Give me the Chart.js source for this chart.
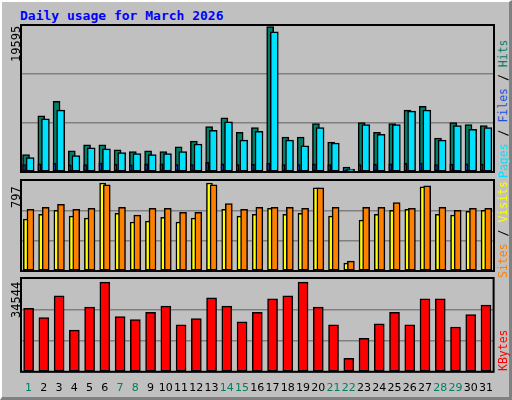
<!DOCTYPE html>
<html><head><meta charset="utf-8">
<script src="https://cdn.jsdelivr.net/npm/chart.js@4/dist/chart.umd.min.js"></script>
<style>
body{margin:0;background:#fff}
#f{position:absolute;left:0;top:0;background:#c0c0c0;border-left:2px solid #fff;border-top:2px solid #fff;border-right:3px solid #808080;border-bottom:3px solid #808080;box-sizing:border-box;width:512px;height:400px;font-family:"DejaVu Sans Mono",monospace}
.c{position:absolute}
.t{position:absolute;font-size:12px;white-space:nowrap}
.v{position:absolute;transform-origin:left top;transform:rotate(-90deg);font-size:12px;white-space:nowrap}
</style></head><body>
<div id="f">
<div class="t" style="left:18px;top:6px;color:#0000ff;font-weight:bold;font-size:13px">Daily usage for March 2026</div>
<div class="c" style="left:18px;top:22px;width:475px;height:157px"><canvas id="c1"></canvas></div>
<div class="c" style="left:18px;top:177px;width:475px;height:101px"><canvas id="c2"></canvas></div>
<div class="c" style="left:18px;top:275px;width:475px;height:120px"><canvas id="c3"></canvas></div>
<div class="v" style="left:7px;top:60px">19595</div>
<div class="v" style="left:7px;top:206px">797</div>
<div class="v" style="left:7px;top:316px">34544</div>
<div class="v" style="left:494px;top:176px;font-size:11.5px"><span style="color:#00e0ff">Pages</span><span style="color:#000"> / </span><span style="color:#2050e0">Files</span><span style="color:#000"> / </span><span style="color:#00806a">Hits</span></div>
<div class="v" style="left:494px;top:276px;font-size:11.5px"><span style="color:#ff8000">Sites</span><span style="color:#000"> / </span><span style="color:#ffff00">Visits</span></div>
<div class="v" style="left:494px;top:369px;font-size:11.5px;color:#ff0000">KBytes</div>
</div>
<script>
const days=[1,2,3,4,5,6,7,8,9,10,11,12,13,14,15,16,17,18,19,20,21,22,23,24,25,26,27,28,29,30,31];
const weekend=[1,7,8,14,15,21,22,28,29];
const hits=[2320,7476,9410,2836,3609,3609,2965,2707,2836,2707,3351,4125,6058,7218,5285,5929,19400,4640,4640,6445,3996,645,6574,5285,6445,8250,8765,4512,6574,6316,6187];
const pages=[1934,7090,8250,2191,3223,3094,2578,2449,2320,2449,2707,3738,5543,6703,4254,5414,18690,4254,3480,5929,3867,387,6316,5027,6316,8121,8250,4254,6187,5672,5929];
const files=[1000,1100,1150,950,1000,1200,1050,950,1100,1100,1000,1000,1300,1100,1000,1050,1200,1000,1000,1100,1000,250,1000,1050,1100,1150,1200,1000,1050,1100,1050];
const visits=[454,497,531,480,463,771,506,429,437,471,429,463,771,540,480,497,548,497,506,728,480,69,446,497,531,540,737,497,489,523,531];
const sites=[540,557,583,540,548,754,557,489,548,548,514,514,754,591,540,557,557,557,548,728,557,86,557,557,600,548,746,557,531,548,548];
const kbytes=[23412,19958,28017,15352,23796,33007,20341,19190,21877,24179,17271,19574,27250,24179,18422,21877,26866,28017,33007,23796,17271,4989,12282,17655,21877,17271,26866,26866,16503,21109,24563];
const maxes=[19595,797,34544];

const border={id:'b',afterDraw(c){const a=c.chartArea,x=c.ctx;x.save();x.strokeStyle='#000';x.lineWidth=2;x.strokeRect(a.left,a.top,a.right-a.left,a.bottom-a.top);x.restore();}};
function ds(vals,off,w,color,order){return {data:days.map((d,i)=>({x:d+off,y:vals[i]})),backgroundColor:color,borderColor:'#000',borderWidth:1.5,barThickness:w,grouped:false,borderSkipped:false,order:order};}
function mk(id,sets,max,showX){
 new Chart(document.getElementById(id),{type:'bar',data:{datasets:sets},plugins:[border],
 options:{responsive:true,maintainAspectRatio:false,animation:false,
 layout:{padding:{left:1,right:1,top:1,bottom:showX?0:1}},
 plugins:{legend:{display:false},tooltip:{enabled:false}},
 scales:{
  x:{type:'linear',min:0.5,max:31.5,offset:false,grid:{display:false},border:{display:false},
   afterBuildTicks:s=>{s.ticks=days.map(d=>({value:d}));},
   ticks:{display:showX,autoSkip:false,maxRotation:0,padding:2,font:{family:'DejaVu Sans',size:11},
     color:c=>weekend.includes(c.tick.value)?'#008060':'#000'}},
  y:{min:0,max:max,afterBuildTicks:s=>{s.ticks=[0,max/3,2*max/3,max].map(v=>({value:v}));},
   ticks:{display:false},grid:{drawTicks:false,color:'#808080',lineWidth:1.5},border:{display:false}}
 }}});
}
mk('c1',[ds(hits,-0.17,7,'#00806a',3),ds(pages,0.1,8,'#00e0ff',1),ds(files,-0.3,3,'#1040e0',0)],maxes[0],false);
mk('c2',[ds(visits,-0.15,6,'#ffff00',1),ds(sites,0.12,7,'#ff8000',0)],maxes[1],false);
mk('c3',[ds(kbytes,0,10,'#ff0000',0)],maxes[2],true);
</script>
</body></html>
